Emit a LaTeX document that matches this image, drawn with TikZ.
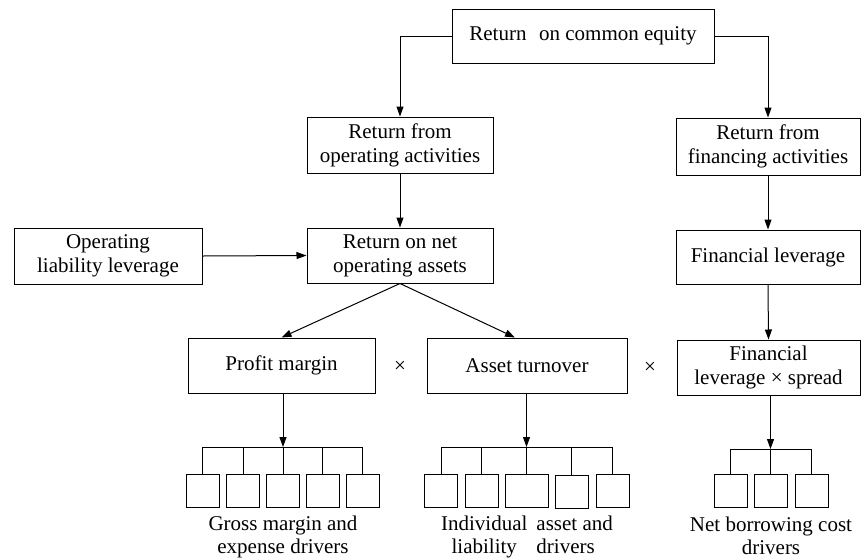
\documentclass[tikz,border=0pt]{standalone}
\usepackage{fontspec}
\setmainfont{Liberation Serif}
\usetikzlibrary{arrows.meta}
\begin{document}
\begin{tikzpicture}[x=1pt,y=-1pt,
  every node/.style={font=\fontsize{21}{24}\selectfont, inner sep=0pt},
  box/.style={draw, line width=1pt, align=center},
  cell/.style={draw, line width=1pt, minimum width=33pt, minimum height=33pt},
  link/.style={line width=1pt},
  arr/.style={line width=1pt, -{Triangle[length=10pt,width=7pt]}},
  lbl/.style={align=center, font=\fontsize{21}{23}\selectfont}]
\useasboundingbox (0,0) rectangle (863,558);

% main boxes
\node[box, minimum width=262pt, minimum height=54pt] (roce) at (583,36) {Return\hspace{0.6em}on common equity};
\node[box, minimum width=186pt, minimum height=56pt] (opact) at (400,145) {Return from\\operating activities};
\node[box, minimum width=184pt, minimum height=57pt] (finact) at (768,146.5) {Return from\\financing activities};
\node[box, minimum width=188pt, minimum height=56pt] (oll) at (108,256) {Operating\\liability leverage};
\node[box, minimum width=186pt, minimum height=55pt] (rnoa) at (400,255.5) {Return on net\\operating assets};
\node[box, minimum width=184pt, minimum height=54pt] (finlev) at (768,257) {Financial leverage};
\node[box, minimum width=187pt, minimum height=55pt] (pm) at (281.5,365.5) {Profit margin};
\node[box, minimum width=200pt, minimum height=55pt] (ato) at (527,365.5) {Asset turnover};
\node[box, minimum width=183pt, minimum height=55pt] (spread) at (768.5,367.5) {Financial\\leverage × spread};

% multiplication signs
\node (t1) at (400,367) {×};
\node (t2) at (650,368) {×};

% driver cells
\node[cell] (p1) at (202.5,490.5) {};
\node[cell] (p2) at (243,490.5) {};
\node[cell] (p3) at (283,490.5) {};
\node[cell] (p4) at (322.5,490.5) {};
\node[cell] (p5) at (362.5,490.5) {};

\node[cell] (a1) at (441,490.5) {};
\node[cell] (a2) at (481.5,490.5) {};
\node[cell, minimum width=43pt] (a3) at (526.5,490.5) {};
\node[cell] (a4) at (571.5,491.5) {};
\node[cell] (a5) at (612.5,491) {};

\node[cell] (n1) at (730.5,491) {};
\node[cell] (n2) at (770.5,491) {};
\node[cell] (n3) at (811.5,491) {};

% driver captions
\node[lbl] (gl) at (283,537) {Gross margin and\\expense drivers};
\node[lbl] (il) at (527,537) {\begin{tabular}{@{}c@{\hspace{9pt}}l@{}}Individual & asset and\\liability & drivers\end{tabular}};
\node[lbl] (nl) at (771,536) {Net borrowing cost\\drivers};

% bus junctions
\coordinate (pb) at (283,447);
\coordinate (ab) at (526.5,447);
\coordinate (nb) at (770.5,449);

% connectors
\draw[arr] (roce.west) -| (opact.north);
\draw[arr] (roce.east) -| (finact.north);
\draw[arr] (opact.south) -- (rnoa.north);
\draw[arr] (oll.east) -- (rnoa.west);
\draw[arr] (finact.south) -- (finlev.north);
\draw[arr] (finlev.south) -- (spread.north);
\draw[arr] (rnoa.south) -- (pm.north);
\draw[arr] (rnoa.south) -- ([xshift=-12pt]ato.north);

\draw[arr] (pm.south -| pb) -- (pb);
\draw[arr] (ato.south -| ab) -- (ab);
\draw[arr] (spread.south -| nb) -- (nb);

\draw[link] (p1.north |- pb) -- (p5.north |- pb);
\foreach \i in {1,...,5} \draw[link] (p\i.north |- pb) -- (p\i.north);
\draw[link] (a1.north |- ab) -- (a5.north |- ab);
\foreach \i in {1,...,5} \draw[link] (a\i.north |- ab) -- (a\i.north);
\draw[link] (n1.north |- nb) -- (n3.north |- nb);
\foreach \i in {1,...,3} \draw[link] (n\i.north |- nb) -- (n\i.north);
\end{tikzpicture}
\end{document}
